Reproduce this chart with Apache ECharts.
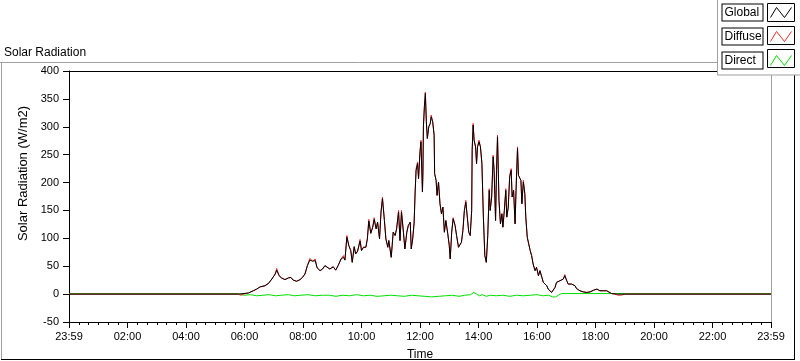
<!DOCTYPE html>
<html>
<head>
<meta charset="utf-8">
<script src="https://cdn.jsdelivr.net/npm/echarts@6/dist/echarts.min.js"></script>
<style>html,body{margin:0;padding:0;background:#fff}#c{width:800px;height:361px}</style>
</head>
<body>
<div id="c"></div>
<script>
// Time in minutes after midnight; 0 and 1440 are the "23:59" ends of the axis
const xTickLabels = ['23:59','02:00','04:00','06:00','08:00','10:00','12:00','14:00','16:00','18:00','20:00','22:00','23:59'];
const seriesNames = ['Global', 'Diffuse', 'Direct'];
const seriesColors = ['#000000', '#ff2a2a', '#00e000'];

const globalTimes = [
  0,347,368,378,385,392,402,409,416,423,
  426,431,436,443,450,455,460,467,474,479,
  484,489,494,500,505,509,515,520,525,535,
  542,547,552,558,563,566,570,574,578,581,
  585,588,592,597,600,604,609,612,615,619,
  623,626,630,633,637,640,643,647,650,654,
  656,661,665,669,672,676,679,682,686,689,
  693,696,700,702,705,708,710,712,715,717,
  720,722,725,726,727,729,731,733,735,738,
  741,743,746,749,750,753,755,758,761,764,
  767,770,773,777,780,782,785,788,792,795,
  799,802,805,808,811,814,817,820,823,826,
  827,829,831,834,836,838,841,844,847,850,
  853,856,859,862,864,867,870,872,875,877,
  879,882,885,888,890,893,896,898,901,904,
  907,909,912,915,917,920,922,925,927,929,
  932,935,937,940,943,946,949,952,956,959,
  963,966,970,973,976,980,983,987,990,993,
  997,1000,1004,1007,1011,1014,1017,1021,1024,1028,
  1031,1034,1038,1041,1045,1048,1055,1062,1069,1076,
  1079,1083,1086,1089,1096,1100,1103,1106,1113,1123,1440
];
const globalValues = [
  0,0,2,6,9,13,15,19,27,36,
  43,33,29,26,29,30,25,23,26,30,
  36,51,61,59,60,47,42,45,51,45,
  49,43,51,63,66,61,102,87,78,57,
  85,72,77,95,78,84,84,99,131,109,
  120,134,117,129,99,147,171,132,99,84,
  96,66,111,105,117,147,96,147,111,81,
  111,123,129,81,99,129,183,222,234,207,
  255,273,183,219,300,336,360,309,279,300,
  306,318,309,285,216,204,177,201,162,144,
  156,111,132,108,87,63,111,135,123,105,
  84,87,93,114,150,165,138,111,105,150,
  258,303,276,264,234,264,273,264,234,138,
  69,57,105,186,150,174,246,222,132,222,
  282,168,126,144,120,150,186,138,156,210,
  222,174,186,126,186,261,213,210,204,162,
  201,180,138,102,90,78,69,54,42,48,
  33,42,30,21,24,15,9,7,3,6,
  12,21,18,24,21,27,33,24,18,15,
  18,21,15,10,7,6,4,3,4,7,
  10,9,7,6,6,9,6,3,1,0,0
];

const diffuseTimes = [
  0,347,352,358,368,378,385,392,402,409,416,423,
  426,431,436,443,450,455,460,467,474,479,
  484,489,494,500,505,509,515,520,525,535,
  542,547,552,558,563,566,570,574,578,581,
  585,588,592,597,600,604,609,612,615,619,
  623,626,630,633,637,640,643,647,650,654,
  656,661,665,669,672,676,679,682,686,689,
  693,696,700,702,705,708,710,712,715,717,
  720,722,725,726,727,729,731,733,735,738,
  741,743,746,749,750,753,755,758,761,764,
  767,770,773,777,780,782,785,788,792,795,
  799,802,805,808,811,814,817,820,823,826,
  827,829,831,834,836,838,841,844,847,850,
  853,856,859,862,864,867,870,872,875,877,
  879,882,885,888,890,893,896,898,901,904,
  907,909,912,915,917,920,922,925,927,929,
  932,935,937,940,943,946,949,952,956,959,
  963,966,970,973,976,980,983,987,990,993,
  997,1000,1004,1007,1011,1014,1017,1021,1024,1028,
  1031,1034,1038,1041,1045,1048,1055,1062,1069,1076,
  1079,1083,1086,1089,1096,1100,1103,1106,1113,1120,1126,1133,1140,1440
];
const diffuseValues = [
  0,0,-2,0,2,6,9,13,15,19,27,36,
  46,33,29,26,29,30,25,23,26,30,
  36,51,64,59,63,47,42,45,51,45,
  49,43,51,63,69,61,105,87,78,57,
  85,72,77,98,78,84,84,99,134,109,
  120,137,117,129,99,147,174,132,99,84,
  96,66,111,105,117,150,96,150,111,81,
  111,123,129,81,99,129,183,225,237,207,
  255,276,183,219,300,336,362,309,279,300,
  306,321,309,285,216,204,177,201,162,144,
  156,111,132,108,87,63,111,137,123,105,
  84,87,93,114,150,168,138,111,105,150,
  258,306,276,264,234,264,276,264,234,138,
  69,57,105,189,150,174,249,222,132,222,
  285,168,126,144,120,150,189,138,156,213,
  225,174,186,126,186,264,213,210,204,162,
  204,180,138,102,90,78,69,54,42,48,
  33,42,30,21,24,15,9,7,3,6,
  12,21,18,24,21,27,35,24,18,15,
  18,21,15,10,7,6,4,3,4,7,
  10,9,7,6,6,9,6,3,1,0,-2,-2,0,0
];

const directTimes = [
  0,347,352,360,372,385,398,410,424,436,
  450,462,476,490,505,520,534,548,560,575,
  590,604,618,632,646,660,674,688,702,716,
  730,744,758,772,786,800,812,824,830,836,
  842,848,856,864,876,890,904,918,932,946,
  960,972,984,992,998,1004,1010,1440
];
const directValues = [
  1,1,-1,-2,-1,-3,-2,-1,-3,-2,
  -1,-3,-2,-1,-3,-2,-2,-4,-2,-3,
  -1,-3,-2,-4,-3,-2,-3,-4,-2,-3,
  -4,-5,-4,-3,-2,-4,-2,-1,3,0,
  -3,-1,-4,-2,-3,-2,-4,-2,-3,-2,
  -1,-3,-2,-5,-5,-2,1,1
];

function pairs(t, v) { return t.map((x, i) => [x, v[i]]); }

const FONT = 'Liberation Sans';
const chart = echarts.init(document.getElementById('c'), null, {renderer: 'canvas'});

const baseX = { type: 'value', min: 0, max: 1440, interval: 120 };
const baseY = { type: 'value', min: -50, max: 400, interval: 50 };

const zigzag = 'path://M0,0 M27,18 M3,14 L9,4 L17,14 L24,4';

chart.setOption({
  animation: false,
  backgroundColor: '#fff',
  title: {
    text: 'Solar Radiation', left: -1, top: 42,
    textStyle: {fontFamily: FONT, fontSize: 12, fontWeight: 'normal', color: '#000'}
  },
  legend: {
    data: seriesNames.map((n, i) => ({
      name: n, icon: zigzag,
      itemStyle: {color: 'rgba(0,0,0,0)', borderColor: seriesColors[i], borderWidth: 1}
    })),
    orient: 'vertical', right: -1, top: -1,
    align: 'right',
    padding: [4, 6, 5, 4],
    itemGap: 5, itemWidth: 27, itemHeight: 18,
    backgroundColor: '#fff', borderColor: '#a0a0a0', borderWidth: 1, borderRadius: 0,
    selectedMode: false,
    formatter: function (name) { return '{t|' + name + '}'; },
    textStyle: {
      fontFamily: FONT, fontSize: 12, color: '#000',
      borderColor: '#000', borderWidth: 1, backgroundColor: '#fff',
      padding: [2, 1, 1, 2], width: 37, height: 13, lineHeight: 13,
      rich: {
        t: {fontFamily: FONT, fontSize: 12, color: '#000', width: 37, align: 'left', lineHeight: 13}
      }
    }
  },
  grid: {left: 69, right: 29, top: 71, bottom: 39, containLabel: false, outerBoundsMode: 'none'},
  xAxis: [
    Object.assign({}, baseX, {
      position: 'bottom',
      name: 'Time', nameLocation: 'middle', nameGap: 27,
      nameTextStyle: {fontFamily: FONT, fontSize: 12, color: '#000'},
      axisLine: {show: true, onZero: false, lineStyle: {color: '#000', width: 1}},
      axisTick: {show: true, inside: false, length: 6, lineStyle: {color: '#000'}},
      minorTick: {show: true, splitNumber: 6, length: 3, lineStyle: {color: '#000'}},
      splitLine: {show: false},
      axisLabel: {
        margin: 9, fontFamily: FONT, fontSize: 11, color: '#000',
        showMinLabel: true, showMaxLabel: true,
        formatter: function (v) { return xTickLabels[Math.round(v / 120)]; }
      }
    }),
    Object.assign({}, baseX, {
      position: 'top',
      axisLine: {show: true, onZero: false, lineStyle: {color: '#000', width: 1}},
      axisTick: {show: false}, axisLabel: {show: false}, splitLine: {show: false}
    })
  ],
  yAxis: [
    Object.assign({}, baseY, {
      position: 'left',
      name: 'Solar Radiation (W/m2)', nameLocation: 'middle', nameGap: 31, nameRotate: 90,
      nameTextStyle: {fontFamily: FONT, fontSize: 13, color: '#000', padding: [0, 0, 0, 46]},
      axisLine: {show: true, onZero: false, lineStyle: {color: '#000', width: 1}},
      axisTick: {show: true, inside: false, length: 6, lineStyle: {color: '#000'}},
      splitLine: {show: false},
      axisLabel: {margin: 10, fontFamily: FONT, fontSize: 11, color: '#000'}
    }),
    Object.assign({}, baseY, {
      position: 'right',
      axisLine: {show: true, onZero: false, lineStyle: {color: '#a0a0a0', width: 1}},
      axisTick: {show: false}, axisLabel: {show: false}, splitLine: {show: false}
    })
  ],
  series: [
    {
      name: 'Global', type: 'line', z: 5, showSymbol: false, symbol: 'none',
      color: seriesColors[0], lineStyle: {color: seriesColors[0], width: 1},
      data: pairs(globalTimes, globalValues)
    },
    {
      name: 'Diffuse', type: 'line', z: 4, showSymbol: false, symbol: 'none',
      color: seriesColors[1], lineStyle: {color: seriesColors[1], width: 1},
      data: pairs(diffuseTimes, diffuseValues)
    },
    {
      name: 'Direct', type: 'line', z: 3, showSymbol: false, symbol: 'none',
      color: seriesColors[2], lineStyle: {color: seriesColors[2], width: 1},
      data: pairs(directTimes, directValues)
    }
  ],
  graphic: [
    {type: 'line', z: 0, shape: {x1: 0, y1: 62.5, x2: 717, y2: 62.5}, style: {stroke: '#a0a0a0', lineWidth: 1}},
    {type: 'line', z: 0, shape: {x1: 1.5, y1: 62, x2: 1.5, y2: 360}, style: {stroke: '#a0a0a0', lineWidth: 1}},
    {type: 'line', z: 0, shape: {x1: 1, y1: 359.5, x2: 795, y2: 359.5}, style: {stroke: '#000', lineWidth: 1}},
    {type: 'line', z: 0, shape: {x1: 794.5, y1: 72, x2: 794.5, y2: 360}, style: {stroke: '#000', lineWidth: 1}},
    {type: 'rect', z: 100, shape: {x: 767.5, y: 3.5, width: 27, height: 18}, style: {fill: 'none', stroke: '#000', lineWidth: 1}},
    {type: 'rect', z: 100, shape: {x: 767.5, y: 26.5, width: 27, height: 18}, style: {fill: 'none', stroke: '#000', lineWidth: 1}},
    {type: 'rect', z: 100, shape: {x: 767.5, y: 49.5, width: 27, height: 18}, style: {fill: 'none', stroke: '#000', lineWidth: 1}}
  ]
});
</script>
</body>
</html>
